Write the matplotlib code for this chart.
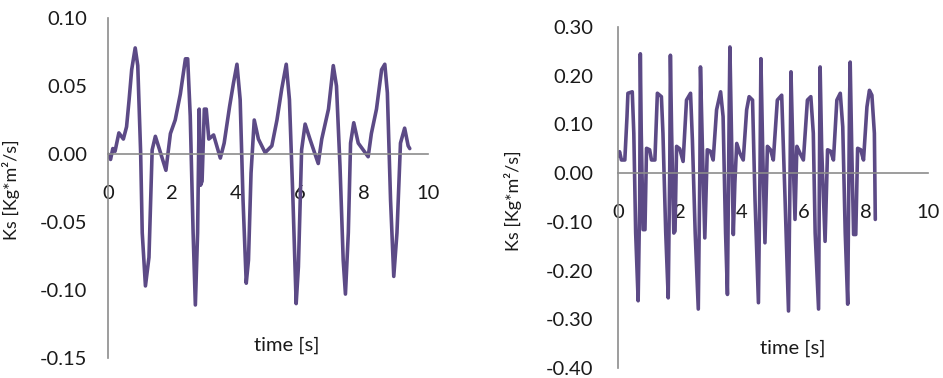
import matplotlib
matplotlib.use("Agg")
import matplotlib.pyplot as plt

# angular momentum trace, first recording
t_left = [0.00, 0.08, 0.15, 0.22, 0.34, 0.48, 0.58, 0.66, 0.74, 0.85, 0.93,
          1.02, 1.07, 1.17, 1.28, 1.38, 1.48, 1.64, 1.81, 1.95, 2.10, 2.26,
          2.42, 2.49, 2.57, 2.66, 2.73, 2.80, 2.85, 2.89, 2.94, 3.01, 3.07,
          3.15, 3.30, 3.51, 3.63, 3.80, 3.92, 4.03, 4.13, 4.22, 4.32, 4.39,
          4.47, 4.57, 4.70, 4.91, 5.12, 5.28, 5.43, 5.57, 5.67, 5.78, 5.88,
          5.95, 6.05, 6.16, 6.31, 6.57, 6.68, 6.89, 7.04, 7.14, 7.25, 7.35,
          7.42, 7.51, 7.58, 7.68, 7.82, 8.13, 8.23, 8.39, 8.55, 8.65, 8.73,
          8.83, 8.93, 9.03, 9.14, 9.27, 9.38, 9.43]
ks_left = [0.000, -0.004, 0.004, 0.002, 0.0155, 0.011, 0.020, 0.040, 0.062,
           0.078, 0.065, 0.001, -0.058, -0.097, -0.076, 0.003, 0.013, 0.001,
           -0.012, 0.015, 0.025, 0.044, 0.070, 0.070, 0.028, -0.058, -0.111,
           -0.058, 0.033, -0.023, -0.020, 0.033, 0.033, 0.011, 0.014, -0.003,
           0.008, 0.035, 0.052, 0.066, 0.040, -0.034, -0.095, -0.078, -0.014,
           0.025, 0.011, 0.001, 0.006, 0.025, 0.048, 0.066, 0.040, -0.034,
           -0.110, -0.083, 0.003, 0.022, 0.011, -0.007, 0.011, 0.033, 0.065,
           0.050, -0.009, -0.078, -0.103, -0.058, 0.008, 0.023, 0.008, -0.002,
           0.015, 0.033, 0.062, 0.066, 0.045, -0.034, -0.090, -0.058, 0.008,
           0.019, 0.006, 0.004]

# angular momentum trace, second recording
t_right = [0.00, 0.05, 0.11, 0.22, 0.29, 0.32, 0.46, 0.51, 0.57, 0.65, 0.70,
           0.72, 0.75, 0.81, 0.87, 0.92, 1.02, 1.08, 1.19, 1.27, 1.40, 1.45,
           1.54, 1.62, 1.67, 1.69, 1.73, 1.80, 1.84, 1.89, 1.99, 2.10, 2.21,
           2.34, 2.40, 2.49, 2.59, 2.64, 2.66, 2.72, 2.80, 2.88, 2.98, 3.07,
           3.18, 3.31, 3.39, 3.47, 3.53, 3.59, 3.61, 3.66, 3.72, 3.77, 3.83,
           3.93, 4.04, 4.15, 4.23, 4.34, 4.42, 4.53, 4.58, 4.61, 4.67, 4.74,
           4.82, 4.92, 5.01, 5.14, 5.28, 5.39, 5.50, 5.55, 5.58, 5.64, 5.71,
           5.77, 5.87, 5.98, 6.11, 6.22, 6.30, 6.36, 6.47, 6.52, 6.57, 6.68,
           6.76, 6.86, 6.95, 7.06, 7.17, 7.25, 7.33, 7.41, 7.47, 7.49, 7.54,
           7.60, 7.67, 7.73, 7.83, 7.92, 8.03, 8.11, 8.19, 8.27, 8.30]
ks_right = [0.035, 0.044, 0.027, 0.027, 0.116, 0.164, 0.167, 0.082, -0.123,
            -0.262, -0.055, 0.245, 0.082, -0.116, -0.116, 0.051, 0.048, 0.027,
            0.027, 0.164, 0.157, 0.082, -0.123, -0.256, 0.014, 0.242, 0.082,
            -0.123, -0.119, 0.055, 0.050, 0.024, 0.150, 0.164, 0.068, -0.123,
            -0.279, 0.000, 0.218, 0.060, -0.133, 0.048, 0.045, 0.027, 0.130,
            0.167, 0.116, -0.123, -0.249, 0.150, 0.259, 0.082, -0.126, -0.020,
            0.061, 0.041, 0.027, 0.130, 0.157, 0.150, -0.055, -0.266, 0.000,
            0.235, 0.040, -0.143, 0.055, 0.048, 0.027, 0.150, 0.160, -0.055,
            -0.283, 0.000, 0.208, 0.050, -0.095, 0.055, 0.041, 0.027, 0.150,
            0.157, 0.082, -0.123, -0.279, 0.218, 0.050, -0.140, 0.048, 0.045,
            0.027, 0.150, 0.164, 0.095, -0.123, -0.269, 0.150, 0.228, 0.050,
            -0.126, -0.126, 0.051, 0.048, 0.027, 0.136, 0.170, 0.160, 0.082,
            -0.095]

x_ticks = [0, 2, 4, 6, 8, 10]
y_ticks_left = [-0.15, -0.10, -0.05, 0.00, 0.05, 0.10]
y_ticks_right = [-0.40, -0.30, -0.20, -0.10, 0.00, 0.10, 0.20, 0.30]

plt.rcParams['font.family'] = ['Lato', 'DejaVu Sans']
line_color = '#5c4a86'
axis_color = '#8c8c8c'
text_color = '#1a1a1a'
tick_size = 14.5
label_size = 13

fig = plt.figure(figsize=(9.43, 3.78), dpi=100)
ax1 = fig.add_axes([108 / 943, 1 - 358 / 378, 320 / 943, 340 / 378])
ax2 = fig.add_axes([618 / 943, 1 - 368 / 378, 310 / 943, 341 / 378])


def style_axes(ax, yticks, ypad, xlabel_pos, ylabel_pos):
    ax.set_xlim(0, 10)
    ax.set_ylim(yticks[0], yticks[-1])
    ax.set_xticks(x_ticks)
    ax.set_xticklabels([str(v) for v in x_ticks])
    ax.set_yticks(yticks)
    ax.set_yticklabels([f"{v:.2f}" for v in yticks])
    for side in ['top', 'right']:
        ax.spines[side].set_visible(False)
    ax.spines['bottom'].set_position(('data', 0))
    for side in ['bottom', 'left']:
        ax.spines[side].set_color(axis_color)
        ax.spines[side].set_linewidth(1.2)
    ax.tick_params(axis='x', length=0, pad=22, labelsize=tick_size, labelcolor=text_color)
    ax.tick_params(axis='y', length=0, pad=ypad, labelsize=tick_size, labelcolor=text_color)
    ax.set_facecolor('none')
    ax.text(xlabel_pos[0], xlabel_pos[1], 'time [s]', transform=ax.transAxes,
            ha='center', va='center', fontsize=tick_size, color=text_color)
    ax.set_ylabel('Ks [Kg*m²/s]', fontsize=label_size, color=text_color)
    ax.yaxis.set_label_coords(*ylabel_pos)


ax1.plot(t_left, ks_left, color=line_color, linewidth=2.6,
         solid_joinstyle='round', solid_capstyle='round')
style_axes(ax1, y_ticks_left, 15, (0.559, 0.038), (-0.275, 0.494))

ax2.plot(t_right, ks_right, color=line_color, linewidth=2.6,
         solid_joinstyle='round', solid_capstyle='round')
style_axes(ax2, y_ticks_right, 18, (0.565, 0.059), (-0.31, 0.49))

fig.savefig('out.png', dpi=100)
